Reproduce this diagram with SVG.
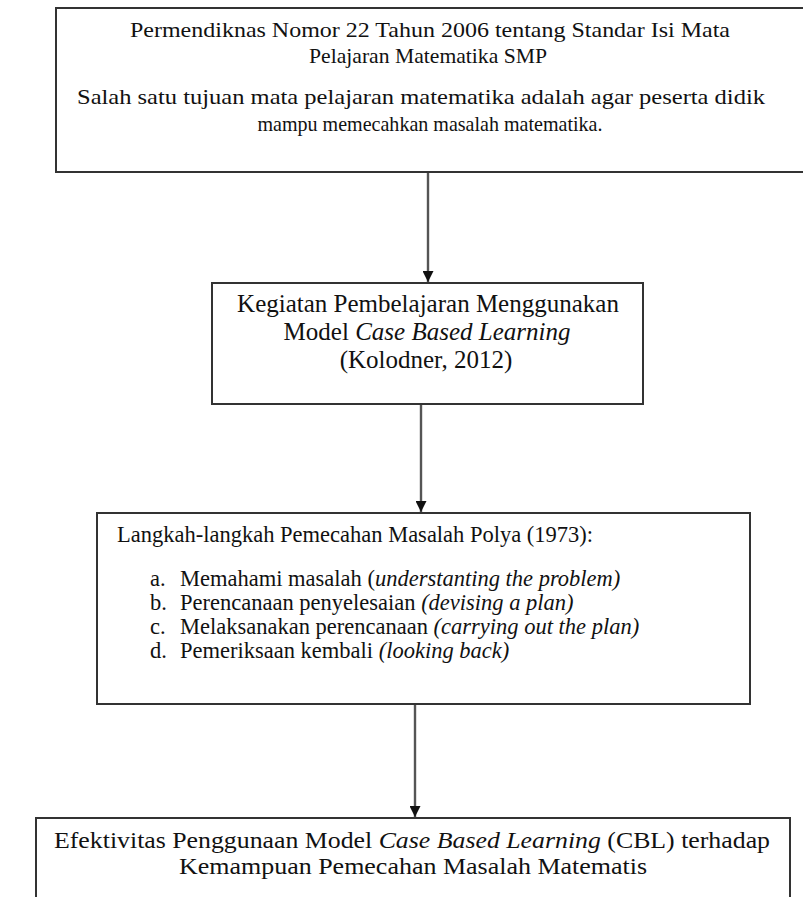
<svg xmlns="http://www.w3.org/2000/svg" width="803" height="897" viewBox="0 0 803 897">
<style>
.box{fill:#fff;stroke:#333;stroke-width:2}
.t{font-family:"Liberation Serif","Times New Roman",serif;fill:#111}
.s1{font-size:22px}
.s2{font-size:25px}
.s3{font-size:22.5px}
.s4{font-size:24px}
.c{text-anchor:middle}
.i{font-style:italic}
.conn line{stroke:#555;stroke-width:2.4}
</style>
<defs>
<marker id="ah" viewBox="0 0 10 10" refX="10" refY="5" markerWidth="11" markerHeight="11" markerUnits="userSpaceOnUse" orient="auto">
<path d="M0,0 L10,5 L0,10 z" fill="#111"/>
</marker>
</defs>
<rect width="803" height="897" fill="#fff"/>
<g id="node1">
<rect class="box" x="56" y="8" width="760" height="164"/>
<text class="t s1 c" x="430" y="37" textLength="600" lengthAdjust="spacingAndGlyphs">Permendiknas Nomor 22 Tahun 2006 tentang Standar Isi Mata</text>
<text class="t s1 c" x="428" y="63" textLength="238" lengthAdjust="spacingAndGlyphs">Pelajaran Matematika SMP</text>
<text class="t s1 c" x="421" y="104" textLength="688" lengthAdjust="spacingAndGlyphs">Salah satu tujuan mata pelajaran matematika adalah agar peserta didik</text>
<text class="t s1 c" x="430" y="131" textLength="345" lengthAdjust="spacingAndGlyphs">mampu memecahkan masalah matematika.</text>
</g>
<g id="node2">
<rect class="box" x="212" y="283" width="431" height="121"/>
<text class="t s2 c" x="428" y="312">Kegiatan Pembelajaran Menggunakan</text>
<text class="t s2 c" x="427" y="340">Model <tspan class="i">Case Based Learning</tspan></text>
<text class="t s2 c" x="426" y="368">(Kolodner, 2012)</text>
</g>
<g id="node3">
<rect class="box" x="97" y="513" width="653" height="191"/>
<text class="t s3" x="117" y="542">Langkah-langkah Pemecahan Masalah Polya (1973):</text>
<text class="t s3" x="150" y="586">a.</text>
<text class="t s3" x="180" y="586">Memahami masalah (<tspan class="i">understanting the problem)</tspan></text>
<text class="t s3" x="150" y="610">b.</text>
<text class="t s3" x="180" y="610">Perencanaan penyelesaian <tspan class="i">(devising a plan)</tspan></text>
<text class="t s3" x="150" y="634">c.</text>
<text class="t s3" x="180" y="634">Melaksanakan perencanaan <tspan class="i">(carrying out the plan)</tspan></text>
<text class="t s3" x="150" y="658">d.</text>
<text class="t s3" x="180" y="658">Pemeriksaan kembali <tspan class="i">(looking back)</tspan></text>
</g>
<g id="node4">
<rect class="box" x="36" y="818" width="754" height="100"/>
<text class="t s4 c" x="412" y="848" textLength="716" lengthAdjust="spacingAndGlyphs">Efektivitas Penggunaan Model <tspan class="i">Case Based Learning</tspan> (CBL) terhadap</text>
<text class="t s4 c" x="413" y="874" textLength="468" lengthAdjust="spacingAndGlyphs">Kemampuan  Pemecahan Masalah Matematis</text>
</g>
<g class="conn" id="connectors">
<line x1="428" y1="173" x2="428" y2="282" marker-end="url(#ah)"/>
<line x1="421" y1="405" x2="421" y2="512" marker-end="url(#ah)"/>
<line x1="415" y1="705" x2="415" y2="817" marker-end="url(#ah)"/>
</g>
</svg>
